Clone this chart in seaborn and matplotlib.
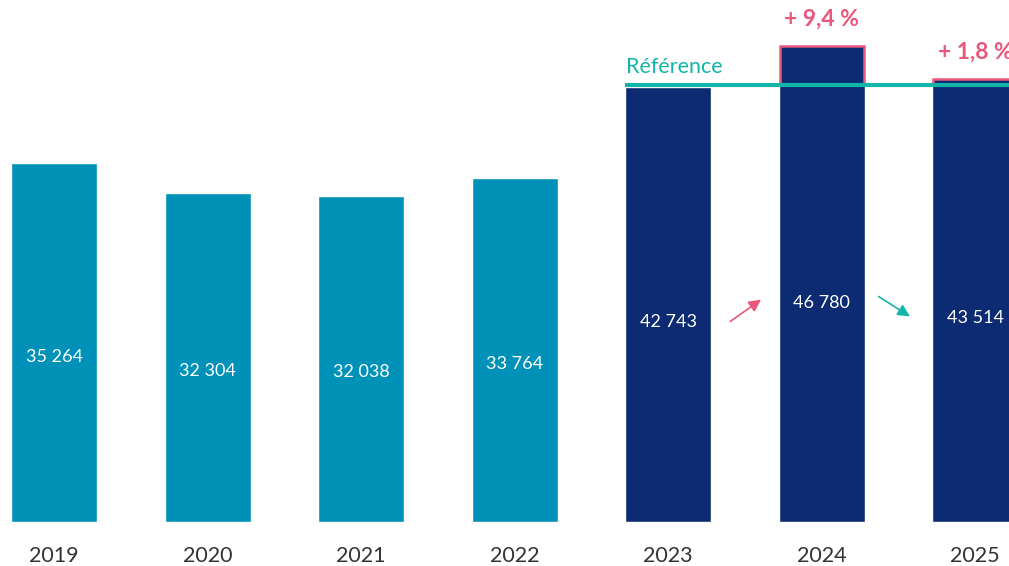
import matplotlib
matplotlib.use("Agg")
import matplotlib.pyplot as plt
import matplotlib.transforms as mtransforms
import seaborn as sns
import pandas as pd

years = ["2019", "2020", "2021", "2022", "2023", "2024", "2025"]
values = [35264, 32304, 32038, 33764, 42743, 46780, 43514]
value_labels = ["35 264", "32 304", "32 038", "33 764", "42 743", "46 780", "43 514"]
ref_year = "2023"
ref_label = "Référence"
change_labels = {"2024": "+ 9,4 %", "2025": "+ 1,8 %"}

teal_bar = "#0091B9"
navy = "#0C2B72"
ref_teal = "#13B5A9"
pink = "#E9577A"

sns.set_style("white")
plt.rcParams["font.family"] = ["Lato", "DejaVu Sans"]

df = pd.DataFrame({"year": years, "value": values})
ref_idx = years.index(ref_year)
ref_val = values[ref_idx]
colors = [teal_bar if i < ref_idx else navy for i in range(len(years))]

fig = plt.figure(figsize=(10.09, 5.66), dpi=100)
ax = fig.add_axes([0, 0, 1, 1])
sns.barplot(data=df, x="year", y="value", hue="year", palette=colors,
            width=0.56, legend=False, ax=ax, saturation=1)

# part above the reference, outlined in pink
for i, (y, v) in enumerate(zip(years, values)):
    if i > ref_idx and v > ref_val:
        ax.bar(i, v - ref_val - 150, bottom=ref_val + 150, width=0.56 - 0.012,
               color=navy, edgecolor=pink, linewidth=1.8, zorder=3)
        ax.text(i, v + 2650, change_labels[y], ha="center", va="center",
                color=pink, fontsize=16.5, fontweight="bold")

# reference line
ax.plot([ref_idx - 0.28, len(years)], [ref_val + 150, ref_val + 150],
        color=ref_teal, linewidth=3, zorder=4, solid_capstyle="butt")
ax.text(ref_idx - 0.275, ref_val + 2000, ref_label, ha="left", va="center",
        color=ref_teal, fontsize=15.5)

# value labels inside bars
for i, (v, lab) in enumerate(zip(values, value_labels)):
    ax.text(i, v * 0.46, lab, ha="center", va="center", color="white", fontsize=13)

# year labels
trans = mtransforms.blended_transform_factory(ax.transData, ax.transAxes)
for i, y in enumerate(years):
    ax.text(i, 0.018, y, ha="center", va="center", color="#333333",
            fontsize=15.5, transform=trans)

# arrows
ax.annotate("", xy=(4.62, 22000), xytext=(4.39, 19550),
            arrowprops=dict(arrowstyle="-|>", color=pink, lw=1.2, mutation_scale=18))
ax.annotate("", xy=(5.59, 20050), xytext=(5.355, 22300),
            arrowprops=dict(arrowstyle="-|>", color=ref_teal, lw=1.2, mutation_scale=18))

ax.set_xlim(-0.352, 6.22)
ax.set_ylim(-4322, 51277)
ax.axis("off")

fig.savefig("out.png", dpi=100)
